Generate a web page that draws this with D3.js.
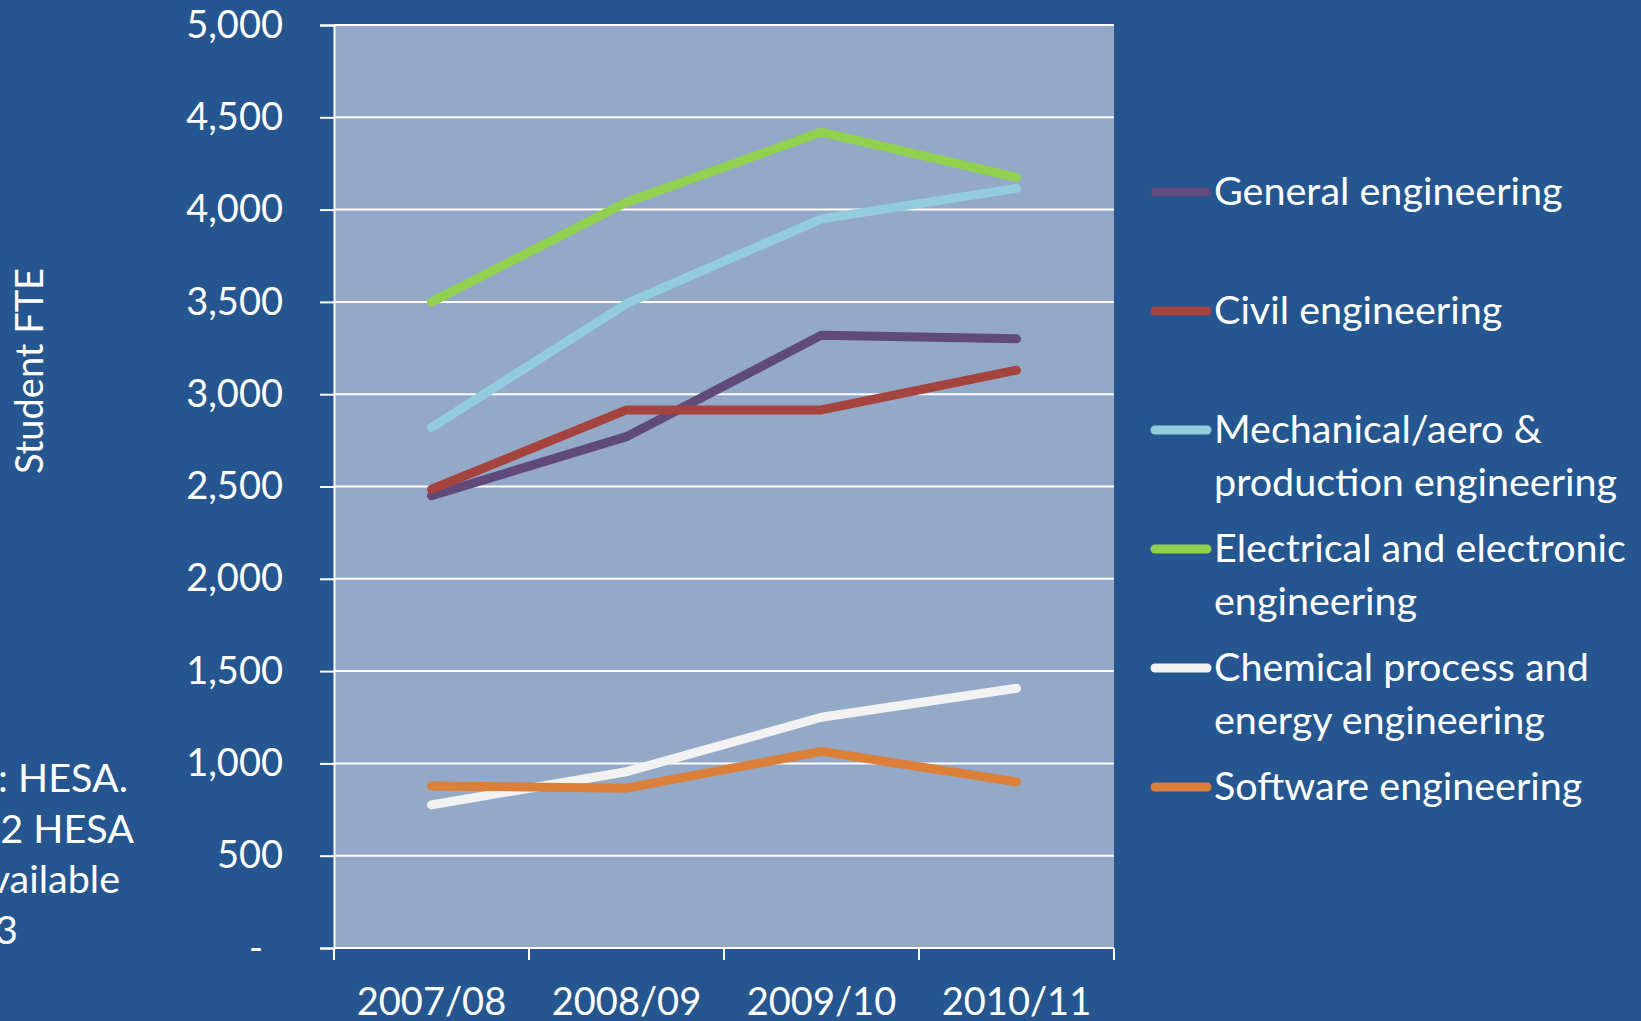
<!DOCTYPE html>
<html>
<head>
<meta charset="utf-8">
<script src="https://cdn.jsdelivr.net/npm/d3@7"></script>
<style>
  html, body { margin: 0; padding: 0; background: #25568f; }
  svg { display: block; }
  text { font-family: Lato, "Open Sans", sans-serif; fill: #fff; }
</style>
</head>
<body>
<svg id="chart" width="1641" height="1021"></svg>
<script>
const YEARS = ["2007/08", "2008/09", "2009/10", "2010/11"];

const SERIES_NAMES = [
  "General engineering",
  "Civil engineering",
  "Mechanical/aero & production engineering",
  "Electrical and electronic engineering",
  "Chemical process and energy engineering",
  "Software engineering",
];

// wrapped legend labels, as in the picture
const LEGEND_LINES = [
  ["General engineering"],
  ["Civil engineering"],
  ["Mechanical/aero &", "production engineering"],
  ["Electrical and electronic", "engineering"],
  ["Chemical process and", "energy engineering"],
  ["Software engineering"],
];

const general = [2450, 2770, 3320, 3300];
const civil = [2485, 2915, 2915, 3130];
const mechanical = [2820, 3490, 3950, 4115];
const electrical = [3500, 4040, 4420, 4175];
const chemical = [775, 955, 1250, 1407];
const software = [878, 866, 1065, 900];

const COLORS = ["#604a7b", "#a5443f", "#93cddd", "#92d050", "#f2f2f2", "#dc7f38"];

const Y_TICKS = [0, 500, 1000, 1500, 2000, 2500, 3000, 3500, 4000, 4500, 5000];

const NOTE_LINES = ["Source: HESA.", "Note: 2011/12 HESA", "data not yet available", "until 2013"];

const MARGINS = { top: 25, right: 527, bottom: 73, left: 334 };

const svg = d3.select("#chart");
const width = +svg.attr("width") - MARGINS.left - MARGINS.right;
const height = +svg.attr("height") - MARGINS.top - MARGINS.bottom;
const FONT = 38;
const TEXT_FONT = 39.5; // words run a bit wider than digits in the original face

const values = [general, civil, mechanical, electrical, chemical, software];

const x = d3.scaleBand().domain(YEARS).range([0, width]);
const y = d3.scaleLinear().domain([0, 5000]).range([height, 0]);

const g = svg
  .append("g")
  .attr("transform", `translate(${MARGINS.left}, ${MARGINS.top})`);

// plot area
g.append("rect")
  .attr("width", width)
  .attr("height", height)
  .attr("fill", "#93a9c7");

// gridlines
g.selectAll(".grid")
  .data(Y_TICKS)
  .join("line")
  .attr("class", "grid")
  .attr("x1", 0)
  .attr("x2", width)
  .attr("y1", (d) => y(d))
  .attr("y2", (d) => y(d))
  .attr("stroke", "#fff")
  .attr("stroke-width", 2);

// y axis
const yAxis = g
  .append("g")
  .call(
    d3
      .axisLeft(y)
      .tickValues(Y_TICKS)
      .tickSize(14)
      .tickPadding(37)
      .tickFormat((d) => (d === 0 ? "-" : d3.format(",")(d)))
  );
yAxis.attr("font-family", null);
yAxis.select(".domain").attr("stroke", "#fff").attr("stroke-width", 2);
yAxis.selectAll(".tick line").attr("stroke", "#fff").attr("stroke-width", 2);
yAxis
  .selectAll(".tick text")
  .attr("font-size", FONT)
  .attr("fill", "#fff")
  .attr("dx", (d) => (d === 0 ? -20 : 0));

// x axis: ticks sit on the category boundaries
const edges = YEARS.map((d) => x(d)).concat([x.range()[1]]);
g.append("line")
  .attr("x1", 0)
  .attr("x2", width)
  .attr("y1", height)
  .attr("y2", height)
  .attr("stroke", "#fff")
  .attr("stroke-width", 2);
g.selectAll(".xtick")
  .data(edges)
  .join("line")
  .attr("class", "xtick")
  .attr("x1", (d) => d)
  .attr("x2", (d) => d)
  .attr("y1", height)
  .attr("y2", height + 12)
  .attr("stroke", "#fff")
  .attr("stroke-width", 2);
g.selectAll(".xlabel")
  .data(YEARS)
  .join("text")
  .attr("class", "xlabel")
  .attr("x", (d) => x(d) + x.bandwidth() / 2)
  .attr("y", height + 67)
  .attr("text-anchor", "middle")
  .attr("font-size", FONT)
  .text((d) => d);

// y title
svg
  .append("text")
  .attr("transform", "translate(43, 371) rotate(-90)")
  .attr("text-anchor", "middle")
  .attr("font-size", FONT)
  .text("Student FTE");

// clipped source note on the left edge
svg
  .selectAll(".note")
  .data(NOTE_LINES)
  .join("text")
  .attr("class", "note")
  .attr("x", (d, i) => [128, 134, 120, 18][i])
  .attr("y", (d, i) => 792 + i * 50.5)
  .attr("text-anchor", "end")
  .attr("font-size", TEXT_FONT)
  .text((d) => d);

// series lines
const line = d3
  .line()
  .x((d, i) => x(YEARS[i]) + x.bandwidth() / 2)
  .y((d) => y(d));

g.selectAll(".series")
  .data(values)
  .join("path")
  .attr("class", "series")
  .attr("d", line)
  .attr("fill", "none")
  .attr("stroke", (d, i) => COLORS[i])
  .attr("stroke-width", 9)
  .attr("stroke-linecap", "round")
  .attr("stroke-linejoin", "round");

// legend
const legend = svg
  .append("g")
  .attr("transform", "translate(1155, 192)");

const item = legend
  .selectAll(".item")
  .data(SERIES_NAMES)
  .join("g")
  .attr("class", "item")
  .attr("transform", (d, i) => `translate(0, ${i * 119})`);

item
  .append("line")
  .attr("x1", 0)
  .attr("x2", 52)
  .attr("stroke", (d, i) => COLORS[i])
  .attr("stroke-width", 9)
  .attr("stroke-linecap", "round");

item
  .append("text")
  .attr("font-size", TEXT_FONT)
  .each(function (d, i) {
    d3.select(this)
      .selectAll("tspan")
      .data(LEGEND_LINES[i])
      .join("tspan")
      .attr("x", 59)
      .attr("y", (t, j) => 13 + j * 53)
      .text((t) => t);
  });
</script>
</body>
</html>
